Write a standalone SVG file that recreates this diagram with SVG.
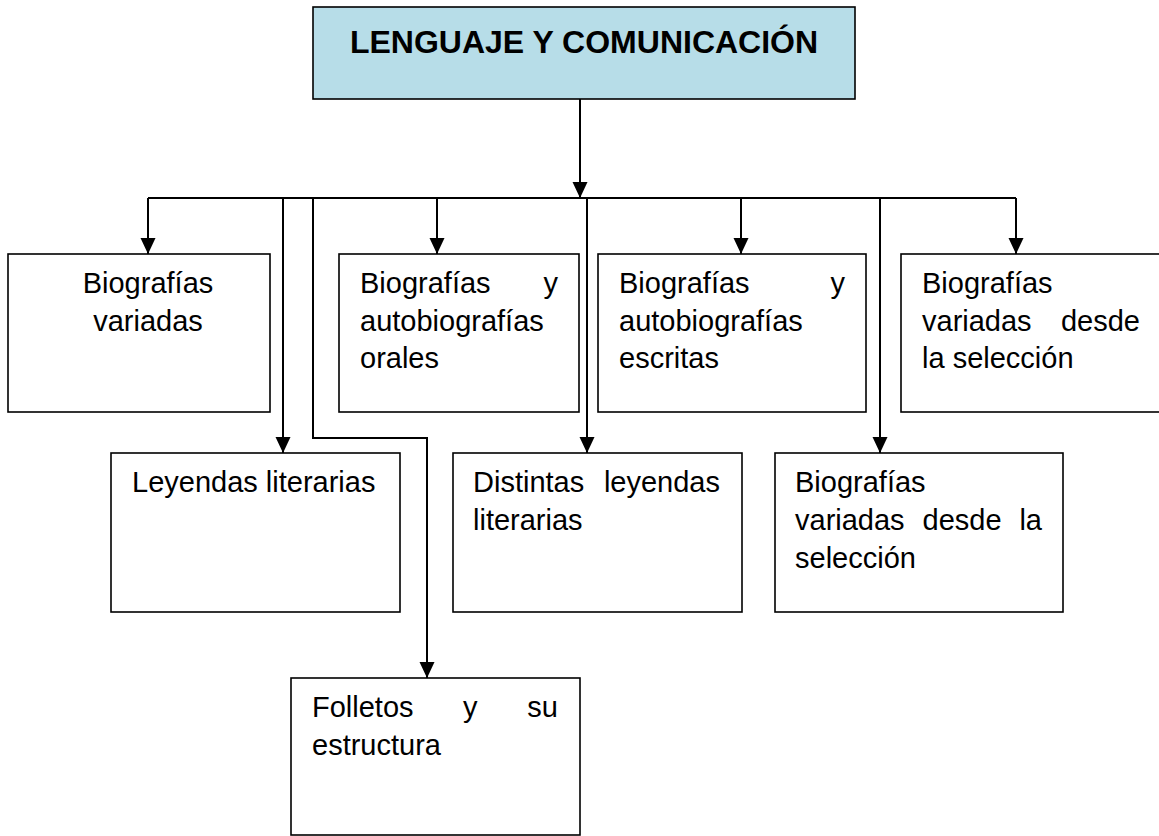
<svg xmlns="http://www.w3.org/2000/svg" width="1159" height="836" viewBox="0 0 1159 836">
<defs>
<style>
.box{fill:#ffffff;stroke:#000000;stroke-width:1.6}
.title{fill:#b7dde8;stroke:#000000;stroke-width:1.6}
.t{font-family:"Liberation Sans",Arial,sans-serif;font-size:29px;fill:#000000}
.tt{font-family:"Liberation Sans",Arial,sans-serif;font-size:32px;font-weight:bold;fill:#000000}
.c{fill:none;stroke:#000000;stroke-width:2}
.e{text-anchor:end}
.m{text-anchor:middle}
</style>
<marker id="arr" markerUnits="userSpaceOnUse" markerWidth="16" markerHeight="16" viewBox="0 0 16 16" refX="16" refY="8" orient="auto">
<path d="M0,0.5 L16,8 L0,15.5 z" fill="#000000"/>
</marker>
</defs>
<rect width="1159" height="836" fill="#ffffff"/>

<g id="connectors">
<path class="c" d="M580,99 V198" marker-end="url(#arr)"/>
<path class="c" d="M148,198 H1016"/>
<path class="c" d="M148,198 V254" marker-end="url(#arr)"/>
<path class="c" d="M437,198 V254" marker-end="url(#arr)"/>
<path class="c" d="M741,198 V254" marker-end="url(#arr)"/>
<path class="c" d="M1016,198 V254" marker-end="url(#arr)"/>
<path class="c" d="M283,198 V453" marker-end="url(#arr)"/>
<path class="c" d="M587,198 V453" marker-end="url(#arr)"/>
<path class="c" d="M880,198 V453" marker-end="url(#arr)"/>
<path class="c" d="M313,198 V438 H427 V678" marker-end="url(#arr)"/>
</g>

<g id="n-root">
<rect class="title" x="313" y="7" width="542" height="92"/>
<text class="tt m" x="584" y="53">LENGUAJE Y COMUNICACIÓN</text>
</g>

<g id="n1">
<rect class="box" x="8" y="254" width="262" height="158"/>
<text class="t m" x="148" y="293">Biografías</text>
<text class="t m" x="148" y="330.5">variadas</text>
</g>

<g id="n2">
<rect class="box" x="339" y="254" width="240" height="158"/>
<text class="t" x="360" y="293">Biografías</text>
<text class="t e" x="558" y="293">y</text>
<text class="t" x="360" y="330.5">autobiografías</text>
<text class="t" x="360" y="368">orales</text>
</g>

<g id="n3">
<rect class="box" x="598" y="254" width="268" height="158"/>
<text class="t" x="619" y="293">Biografías</text>
<text class="t e" x="845" y="293">y</text>
<text class="t" x="619" y="330.5">autobiografías</text>
<text class="t" x="619" y="368">escritas</text>
</g>

<g id="n4">
<rect class="box" x="901" y="254" width="262" height="158"/>
<text class="t" x="922" y="293">Biografías</text>
<text class="t" x="922" y="330.5">variadas</text>
<text class="t e" x="1140" y="330.5">desde</text>
<text class="t" x="922" y="368">la selección</text>
</g>

<g id="n5">
<rect class="box" x="111" y="453" width="289" height="159"/>
<text class="t" x="132" y="492">Leyendas literarias</text>
</g>

<g id="n6">
<rect class="box" x="453" y="453" width="289" height="159"/>
<text class="t" x="473" y="492">Distintas</text>
<text class="t e" x="720" y="492">leyendas</text>
<text class="t" x="473" y="530">literarias</text>
</g>

<g id="n7">
<rect class="box" x="775" y="453" width="288" height="159"/>
<text class="t" x="795" y="492">Biografías</text>
<text class="t" x="795" y="530">variadas</text>
<text class="t" x="922.5" y="530">desde</text>
<text class="t e" x="1042" y="530">la</text>
<text class="t" x="795" y="568">selección</text>
</g>

<g id="n8">
<rect class="box" x="291" y="678" width="289" height="157"/>
<text class="t" x="312" y="717">Folletos</text>
<text class="t" x="463" y="717">y</text>
<text class="t e" x="558" y="717">su</text>
<text class="t" x="312" y="755">estructura</text>
</g>
</svg>
